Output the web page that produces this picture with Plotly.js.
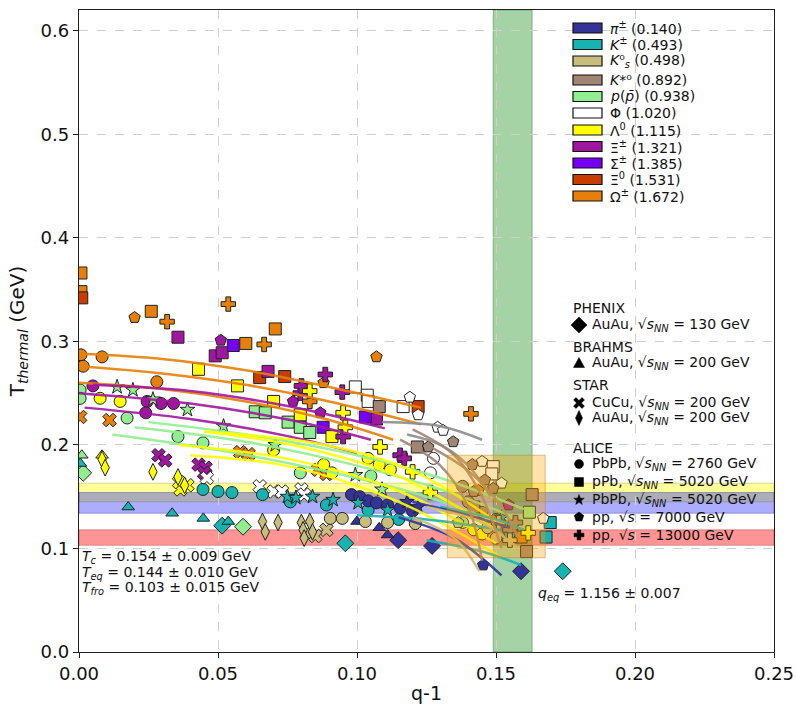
<!DOCTYPE html>
<html><head><meta charset="utf-8">
<script src="https://cdn.plot.ly/plotly-3.0.1.min.js"></script>
<style>body{margin:0;background:#fff}#chart{width:796px;height:704px}</style>
</head><body><div id="chart"></div>
<script>
// ---------------- species ----------------
const speciesLabels = ['<i>π</i><sup>±</sup> (0.140)','<i>K</i><sup>±</sup> (0.493)','<i>K</i>⁰<sub><i>s</i></sub> (0.498)',
  '<i>K</i>*⁰ (0.892)','<i>p</i>(<i>p̄</i>) (0.938)','Φ (1.020)','Λ<sup>0</sup> (1.115)','Ξ<sup>±</sup> (1.321)',
  'Σ<sup>±</sup> (1.385)','Ξ<sup>0</sup> (1.531)','Ω<sup>±</sup> (1.672)'];
const speciesColors = ['#333399','#17b2b2','#c9bd7e','#a08474','#90ee90','#ffffff','#ffff00','#a0179f','#7600f5','#c83c00','#e6800a'];
// species index: 0 pi,1 K,2 Ks,3 K*0,4 p,5 Phi,6 Lambda,7 Xi,8 Sigma,9 Xi0,10 Omega

// ---------------- data (q-1, T in GeV, species) ----------------
const phenix_q  = [0.1148,0.1270,0.1590,0.0958,0.1740,0.0515,0.0590,0.0015];
const phenix_T  = [0.108,0.1024,0.078,0.105,0.078,0.122,0.121,0.173];
const phenix_sp = [0,0,0,1,1,1,4,4];

const brahms_q  = [0.0010,0.0005,0.0083,0.0177,0.0335,0.0447,0.0537,0.1000,0.1080,0.1110];
const brahms_T  = [0.190,0.182,0.190,0.140,0.134,0.129,0.126,0.126,0.120,0.113];
const brahms_sp = [4,1,6,1,1,1,1,0,0,0];

const starCu_q  = [0.0004,0.011,0.058,0.061,0.086,0.089, 0.0286,0.031,0.043,0.0455,0.045, 0.039,0.0365,0.036, 0.065,0.070,0.073,0.080,0.081,0.046, 0.089,0.082,0.085];
const starCu_T  = [0.227,0.224,0.193,0.191,0.176,0.172, 0.190,0.185,0.181,0.178,0.173, 0.161,0.157,0.164, 0.160,0.155,0.155,0.157,0.152,0.168, 0.118,0.115,0.112];
const starCu_sp = [10,10,10,10,10,10, 7,7,7,7,7, 6,6,6, 5,5,5,5,5,5, 2,2,2];

const starAu_q  = [0.0083,0.0094,0.0266,0.0356,0.038, 0.066,0.067,0.0716,0.080,0.083,0.0806,0.084,0.081];
const starAu_T  = [0.186,0.178,0.174,0.169,0.161, 0.126,0.116,0.125,0.125,0.126,0.118,0.116,0.110];
const starAu_sp = [6,6,6,6,6, 2,2,2,2,2,2,2,2];

const alice2760_q  = [0.0007,0.0083,0.0015,0.028, 0.005,0.0245,0.0295,0.034,0.024,
  0.0076,0.0148,0.070,0.088,0.091,0.104,0.108,0.112,0.142,0.145,
  0.0004,0.0004,0.0173,0.0356,0.0446,0.0796,0.105,0.138,
  0.0446,0.050,0.055,0.066,0.076,0.089,0.104,0.115,0.155,
  0.0904,0.0947,0.103,0.111,0.121,0.147,0.150,
  0.098,0.101,0.104,0.107,0.111,0.1155,0.120,
  0.138,0.140,0.145,0.150, 0.1264,0.1275];
const alice2760_T  = [0.287,0.285,0.276,0.261, 0.257,0.242,0.240,0.240,0.231,
  0.245,0.242,0.195,0.181,0.173,0.187,0.181,0.176,0.118,0.114,
  0.253,0.245,0.226,0.208,0.202,0.173,0.170,0.125,
  0.157,0.155,0.154,0.152,0.145,0.142,0.137,0.128,0.115,
  0.129,0.129,0.126,0.125,0.124,0.120,0.110,
  0.152,0.150,0.146,0.144,0.142,0.139,0.136,
  0.160,0.145,0.135,0.128, 0.173,0.187];
const alice2760_sp = [10,10,10,10, 7,7,7,7,7,
  6,6,6,6,6,6,6,6,6,6,
  4,4,4,4,4,4,4,4,
  1,1,1,1,1,1,1,1,1,
  2,2,2,2,2,2,2,
  0,0,0,0,0,0,0,
  3,3,3,3, 5,5];

const alicePPb_q  = [0.0007,0.0007,0.026,0.0706,0.060,0.159,
  0.001,0.065,0.074,0.122,
  0.0356,0.049,0.0515,0.068,0.107,
  0.0555,0.0878,0.103,
  0.043,0.057,0.070,0.0796,0.091,
  0.0634,0.067,0.0752,0.0796,0.083,0.162,
  0.0994,0.1037,0.104,0.1166,0.149,0.1485,
  0.108,0.1217,0.163,0.161,0.142,
  0.1695,0.168];
const alicePPb_T  = [0.366,0.348,0.329,0.312,0.298,0.111,
  0.342,0.265,0.266,0.237,
  0.304,0.286,0.289,0.271,0.225,
  0.296,0.217,0.227,
  0.273,0.257,0.242,0.229,0.208,
  0.232,0.231,0.222,0.217,0.212,0.135,
  0.256,0.248,0.242,0.237,0.179,0.172,
  0.237,0.198,0.152,0.097,0.140,
  0.125,0.111];
const alicePPb_sp = [10,10,10,10,10,10, 9,9,9,9, 7,7,7,7,7, 8,8,8, 6,6,6,6,6, 4,4,4,4,4,4, 5,5,5,5,5,5, 3,3,3,3,3, 1,1];

const alicePbPb5_q  = [0.0137,0.0194,0.0266,0.039,0.052,0.0706,0.0994,0.109,
  0.075,0.078,0.084,0.0914,0.1004,0.111,0.152, 0.118,0.122];
const alicePbPb5_T  = [0.256,0.253,0.244,0.234,0.218,0.200,0.171,0.157,
  0.150,0.149,0.150,0.147,0.144,0.137,0.130, 0.145,0.140];
const alicePbPb5_sp = [4,4,4,4,4,4,4,4, 1,1,1,1,1,1,1, 0,0];

const pp7_q  = [0.020,0.107,0.088,0.1437, 0.051,0.077,0.0868,0.1545,
  0.119,0.122,0.129,0.131,0.145,0.152,0.167,
  0.1346,0.1256,0.1415,0.146,0.142,0.149, 0.1364, 0.1454];
const pp7_T  = [0.323,0.285,0.260,0.156, 0.301,0.242,0.231,0.142,
  0.246,0.229,0.217,0.214,0.184,0.163,0.129,
  0.203,0.198,0.181,0.166,0.155,0.158, 0.125, 0.084];
const pp7_sp = [10,10,10,10, 7,7,7,7, 5,5,5,5,5,5,5, 3,3,3,3,3,3, 4, 0];

const pp13_q  = [0.0317,0.0537,0.0666,0.083,0.141,
  0.0886,0.0947,0.095,0.0796,0.1155,0.117,0.080,
  0.083,0.095,0.0958,0.1083,0.120,0.1264,0.1616,
  0.155,0.157, 0.155,0.151];
const pp13_T  = [0.319,0.336,0.297,0.242,0.230,
  0.268,0.251,0.208,0.250,0.190,0.187,0.257,
  0.252,0.231,0.217,0.198,0.174,0.154,0.115,
  0.118,0.125, 0.108,0.125];
const pp13_sp = [10,10,10,10,10, 7,7,7,7,7,7,7, 6,6,6,6,6,6,6, 3,3, 2,2];

// fit curves (species index, q-1 nodes, T nodes)
const fit_sp = [10,10,10, 7,7,7, 4,4,4, 6,6,6,6, 1,1,1, 0,0, 2,2, 5,5, 3,3,3];
const fit_q = [
  [0,0.03,0.06,0.09,0.123],[0,0.03,0.06,0.09,0.123],[0,0.03,0.06,0.09,0.113],
  [0.005,0.04,0.076,0.11],[0,0.04,0.076,0.105],[0.002,0.04,0.076,0.10],
  [0.025,0.06,0.10,0.13,0.16],[0.02,0.06,0.10,0.13,0.155],[0.012,0.05,0.09,0.125,0.15],
  [0.045,0.0886,0.12,0.15],[0.045,0.08,0.1155,0.15],[0.036,0.076,0.1155,0.15],[0.04,0.076,0.115,0.1515],
  [0.10,0.125,0.152],[0.125,0.145,0.159],[0.13,0.15,0.16],
  [0.115,0.135,0.152],[0.12,0.14,0.155],
  [0.12,0.135,0.144],[0.125,0.145,0.158],
  [0.109,0.13,0.145],[0.118,0.13,0.14,0.148],
  [0.1155,0.13,0.14,0.145],[0.12,0.135,0.145,0.152],[0.125,0.14,0.152,0.158]];
const fit_T = [
  [0.288,0.283,0.272,0.256,0.236],[0.276,0.269,0.258,0.242,0.220],[0.260,0.254,0.242,0.224,0.205],
  [0.258,0.252,0.237,0.216],[0.250,0.240,0.224,0.205],[0.236,0.225,0.208,0.192],
  [0.222,0.210,0.190,0.168,0.138],[0.217,0.203,0.180,0.157,0.132],[0.210,0.195,0.174,0.150,0.126],
  [0.213,0.200,0.175,0.126],[0.213,0.198,0.169,0.118],[0.200,0.186,0.155,0.105],[0.190,0.179,0.145,0.092],
  [0.132,0.128,0.118],[0.108,0.097,0.084],[0.140,0.128,0.118],
  [0.130,0.110,0.074],[0.145,0.132,0.120],
  [0.130,0.110,0.078],[0.140,0.125,0.100],
  [0.222,0.218,0.205],[0.210,0.200,0.180,0.150],
  [0.205,0.180,0.140,0.088],[0.215,0.190,0.150,0.100],[0.200,0.175,0.140,0.110]];

// reference values
const Tc = 0.154, dTc = 0.009, Teq = 0.144, dTeq = 0.010, Tfro = 0.103, dTfro = 0.015;
const qeq = 1.156, dqeq = 0.007;
const boxQ = [0.1325, 0.1677], boxT = [0.091, 0.190];

const experiments = [
  {head:'PHENIX', items:[['diamond','AuAu, √<i>s</i><sub><i>NN</i></sub> = 130 GeV']]},
  {head:'BRAHMS', items:[['triangle','AuAu, √<i>s</i><sub><i>NN</i></sub> = 200 GeV']]},
  {head:'STAR', items:[['x','CuCu, √<i>s</i><sub><i>NN</i></sub> = 200 GeV'],['thin','AuAu, √<i>s</i><sub><i>NN</i></sub> = 200 GeV']]},
  {head:'ALICE', items:[['circle','PbPb, √<i>s</i><sub><i>NN</i></sub> = 2760 GeV'],['square','pPb, √<i>s</i><sub><i>NN</i></sub> = 5020 GeV'],
    ['star','PbPb, √<i>s</i><sub><i>NN</i></sub> = 5020 GeV'],['pentagon','pp, √<i>s</i> = 7000 GeV'],['cross','pp, √<i>s</i> = 13000 GeV']]}
];

// ---------------- traces ----------------
const FONT = 'DejaVu Sans, Liberation Sans, sans-serif';
const groups = [
  {q:phenix_q,T:phenix_T,sp:phenix_sp,sym:'diamond',size:13},
  {q:brahms_q,T:brahms_T,sp:brahms_sp,sym:'triangle-up',size:11},
  {q:starCu_q,T:starCu_T,sp:starCu_sp,sym:'x',size:12},
  {q:starAu_q,T:starAu_T,sp:starAu_sp,sym:'diamond-tall',size:12},
  {q:alice2760_q,T:alice2760_T,sp:alice2760_sp,sym:'circle',size:12},
  {q:alicePPb_q,T:alicePPb_T,sp:alicePPb_sp,sym:'square',size:12},
  {q:alicePbPb5_q,T:alicePbPb5_T,sp:alicePbPb5_sp,sym:'star',size:11},
  {q:pp7_q,T:pp7_T,sp:pp7_sp,sym:'pentagon',size:12},
  {q:pp13_q,T:pp13_T,sp:pp13_sp,sym:'cross',size:12}
];
const traces = groups.map(g => ({
  type:'scatter', mode:'markers', x:g.q, y:g.T, showlegend:false, hoverinfo:'skip',
  marker:{symbol:g.sym, size:g.size, color:g.sp.map(i=>speciesColors[i]), line:{color:'#222', width:1}}
}));
fit_sp.forEach((s,i) => {
  traces.push({type:'scatter', mode:'lines', x:fit_q[i], y:fit_T[i], showlegend:false, hoverinfo:'skip',
    opacity:0.9, line:{color: s===5 ? '#8c8c8c' : speciesColors[s], width:2.5, shape:'spline'}});
});

// ---------------- layout helpers ----------------
const PL = 79, PR = 774, PT = 10, PB = 652;
const xp = px => (px - PL) / (PR - PL);
const yp = py => (PB - py) / (PB - PT);
const shapes = [
  {type:'rect', xref:'paper', yref:'y', x0:0, x1:1, y0:Tc-dTc, y1:Tc+dTc, fillcolor:'rgba(255,255,0,0.4)', line:{color:'rgba(150,150,0,0.35)', width:1}, layer:'below'},
  {type:'rect', xref:'paper', yref:'y', x0:0, x1:1, y0:Teq-dTeq, y1:Teq+dTeq, fillcolor:'rgba(0,0,255,0.32)', line:{color:'rgba(0,0,150,0.3)', width:1}, layer:'below'},
  {type:'rect', xref:'paper', yref:'y', x0:0, x1:1, y0:Tfro, y1:Tfro+dTfro, fillcolor:'rgba(255,0,0,0.42)', line:{color:'rgba(150,0,0,0.3)', width:1}, layer:'below'},
  {type:'rect', xref:'x', yref:'paper', x0:qeq-1-dqeq, x1:qeq-1+dqeq, y0:0, y1:1, fillcolor:'rgba(0,128,0,0.35)', line:{color:'rgba(0,90,0,0.35)', width:1}, layer:'below'},
  {type:'rect', xref:'x', yref:'y', x0:boxQ[0], x1:boxQ[1], y0:boxT[0], y1:boxT[1], fillcolor:'rgba(255,165,0,0.33)', line:{color:'rgba(200,130,40,0.5)', width:1}, layer:'above'}
];
const annotations = [];
// species legend
const rowY = [28, 44.5, 61, 80, 96.5, 113, 130, 146.5, 163, 179.5, 196];
speciesLabels.forEach((lab,i) => {
  const py = rowY[i];
  shapes.push({type:'rect', xref:'paper', yref:'paper', x0:xp(573), x1:xp(602), y0:yp(py+5), y1:yp(py-5),
    fillcolor:speciesColors[i], line:{color:'#111', width:1.2}, layer:'above'});
  annotations.push({xref:'paper', yref:'paper', x:xp(609), y:yp(py), xanchor:'left', yanchor:'middle', showarrow:false,
    borderpad:0, text:lab, font:{family:FONT, size:14, color:'#111'}});
});
// marker legend glyphs
function poly(pts){ return 'M' + pts.map(p => p[0].toFixed(2)+','+p[1].toFixed(2)).join('L') + 'Z'; }
function ring(n, R, r, a0){ const pts=[]; const m = r ? 2*n : n;
  for(let k=0;k<m;k++){ const a=a0+k*2*Math.PI/m; const rr=(r && k%2)?r:R; pts.push([rr*Math.cos(a), rr*Math.sin(a)]); } return pts; }
function plus(a,t){ return [[t,a],[t,t],[a,t],[a,-t],[t,-t],[t,-a],[-t,-a],[-t,-t],[-a,-t],[-a,t],[-t,t],[-t,a]]; }
function rot45(pts){ const c=Math.SQRT1_2; return pts.map(([x,y])=>[(x-y)*c,(x+y)*c]); }
const glyphPath = {
  diamond: poly([[0,8],[8,0],[0,-8],[-8,0]]),
  triangle: poly([[-5.5,-4.5],[5.5,-4.5],[0,5.5]]),
  x: poly(rot45(plus(6,1.7))),
  thin: poly([[0,7.5],[3.5,0],[0,-7.5],[-3.5,0]]),
  star: poly(ring(5,5.5,2.3,Math.PI/2)),
  pentagon: poly(ring(5,5,0,Math.PI/2)),
  cross: poly(plus(5,1.8))
};
function glyph(kind, px, py){
  const base = {xref:'paper', yref:'paper', xsizemode:'pixel', ysizemode:'pixel', xanchor:xp(px), yanchor:yp(py),
    fillcolor:'#000', line:{color:'#000', width:0.5}, layer:'above'};
  if(kind==='circle') return Object.assign(base,{type:'circle', x0:-4.5,x1:4.5,y0:-4.5,y1:4.5});
  if(kind==='square') return Object.assign(base,{type:'rect', x0:-4.5,x1:4.5,y0:-4.5,y1:4.5});
  return Object.assign(base,{type:'path', path:glyphPath[kind]});
}
const headY = [308, 347, 385, 448];
const itemY = [[325],[363],[403,418],[464,482,500,517,535]];
experiments.forEach((e,gi) => {
  annotations.push({xref:'paper', yref:'paper', x:xp(572), y:yp(headY[gi]), xanchor:'left', yanchor:'middle', showarrow:false,
    borderpad:0, text:e.head, font:{family:FONT, size:14, color:'#111'}});
  e.items.forEach((it,ii) => {
    const py = itemY[gi][ii];
    shapes.push(glyph(it[0], 579, py));
    annotations.push({xref:'paper', yref:'paper', x:xp(591), y:yp(py), xanchor:'left', yanchor:'middle', showarrow:false,
      borderpad:0, text:it[1], font:{family:FONT, size:14, color:'#111'}});
  });
});
// result text
const tLines = [
  '<i>T</i><sub><i>c</i></sub> = ' + Tc.toFixed(3) + ' ± ' + dTc.toFixed(3) + ' GeV',
  '<i>T</i><sub><i>eq</i></sub> = ' + Teq.toFixed(3) + ' ± ' + dTeq.toFixed(3) + ' GeV',
  '<i>T</i><sub><i>fro</i></sub> = ' + Tfro.toFixed(3) + ' ± ' + dTfro.toFixed(3) + ' GeV'];
[557,573,588].forEach((py,i) => annotations.push({xref:'paper', yref:'paper', x:xp(81), y:yp(py), xanchor:'left', yanchor:'middle',
  showarrow:false, borderpad:0, text:tLines[i], font:{family:FONT, size:14, color:'#111'}}));
annotations.push({xref:'paper', yref:'paper', x:xp(536), y:yp(594), xanchor:'left', yanchor:'middle', showarrow:false,
  text:'<i>q</i><sub><i>eq</i></sub> = ' + qeq.toFixed(3) + ' ± ' + dqeq.toFixed(3), font:{family:FONT, size:14, color:'#111'}});

const axisCommon = {showline:true, linecolor:'#222', linewidth:1.2, mirror:true, ticks:'outside', ticklen:5, tickcolor:'#222',
  gridcolor:'#cfcfcf', griddash:'dash', gridwidth:1, zeroline:false, tickfont:{family:FONT, size:18, color:'#111'}};
const layout = {
  width:796, height:704, margin:{l:PL, r:796-PR, t:PT, b:704-PB}, paper_bgcolor:'#fff', plot_bgcolor:'#fff',
  showlegend:false, font:{family:FONT},
  xaxis:Object.assign({}, axisCommon, {range:[0,0.25], tickvals:[0,0.05,0.1,0.15,0.2,0.25], tickformat:'.2f',
    title:{text:'q-1', font:{family:FONT, size:19, color:'#111'}, standoff:8}}),
  yaxis:Object.assign({}, axisCommon, {range:[0,0.62], tickvals:[0,0.1,0.2,0.3,0.4,0.5,0.6], tickformat:'.1f',
    title:{text:'T<sub><i>thermal</i></sub> (GeV)', font:{family:FONT, size:20, color:'#111'}, standoff:10}}),
  shapes:shapes, annotations:annotations
};
Plotly.newPlot('chart', traces, layout, {staticPlot:true, displayModeBar:false});
</script></body></html>
